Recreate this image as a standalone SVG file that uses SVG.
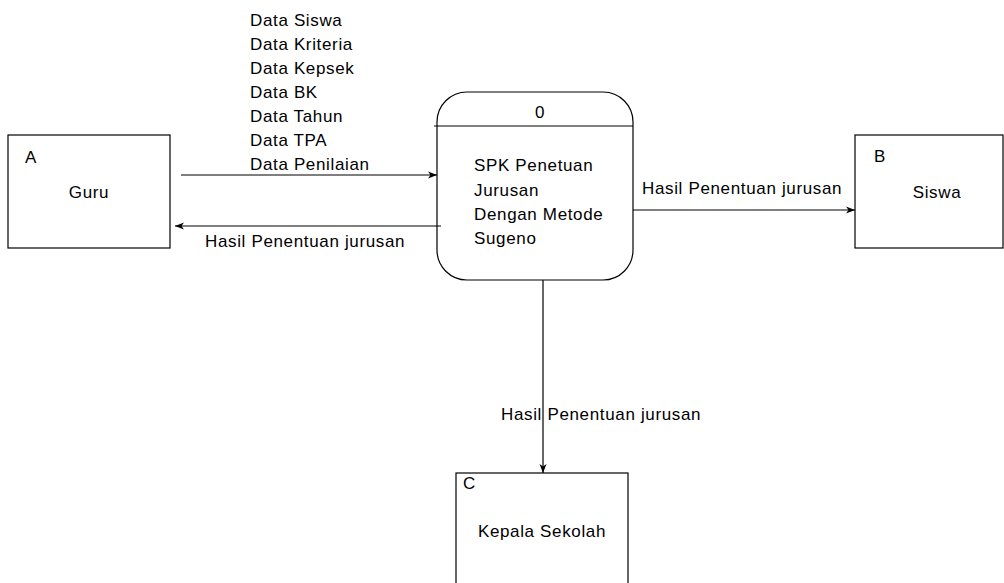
<svg xmlns="http://www.w3.org/2000/svg" width="1004" height="583" viewBox="0 0 1004 583">
<style>
text{font-family:"Liberation Sans",Arial,sans-serif;font-size:17px;letter-spacing:0.65px;fill:#000}
.box{fill:#fff;stroke:#000;stroke-width:1.2}
.ln{fill:none;stroke:#000;stroke-width:1.2}
.c{text-anchor:middle}
</style>
<defs>
<marker id="ah" markerWidth="10" markerHeight="8" refX="9" refY="4" orient="auto" markerUnits="userSpaceOnUse">
<path d="M0,0.5 L9,4 L0,7.5 L2.5,4 Z" fill="#000"/>
</marker>
</defs>
<rect width="1004" height="583" fill="#fff"/>
<g id="guru">
<rect class="box" x="8" y="135" width="162" height="113"/>
<text x="25" y="163">A</text>
<text class="c" x="89" y="198">Guru</text>
</g>
<g id="siswa">
<rect class="box" x="855" y="135" width="148" height="113"/>
<text x="874" y="162">B</text>
<text class="c" x="937" y="198">Siswa</text>
</g>
<g id="kepsek">
<rect class="box" x="456" y="473" width="172" height="120"/>
<text x="463" y="489">C</text>
<text class="c" x="542" y="537">Kepala Sekolah</text>
</g>
<g id="proses">
<rect class="box" x="437" y="92" width="196" height="188" rx="30" ry="30"/>
<line class="ln" x1="434" y1="126" x2="633" y2="126"/>
<text class="c" x="540" y="118">0</text>
<text x="474" y="171">SPK Penetuan</text>
<text x="474" y="196">Jurusan</text>
<text x="474" y="220">Dengan Metode</text>
<text x="474" y="244">Sugeno</text>
</g>
<g id="connectors">
<line class="ln" x1="181" y1="175" x2="437" y2="175" marker-end="url(#ah)"/>
<line class="ln" x1="441" y1="226" x2="175" y2="226" marker-end="url(#ah)"/>
<line class="ln" x1="633" y1="210" x2="855" y2="210" marker-end="url(#ah)"/>
<line class="ln" x1="543" y1="280" x2="543" y2="473" marker-end="url(#ah)"/>
<text x="250" y="26">Data Siswa</text>
<text x="250" y="50">Data Kriteria</text>
<text x="250" y="74">Data Kepsek</text>
<text x="250" y="98">Data BK</text>
<text x="250" y="122">Data Tahun</text>
<text x="250" y="146">Data TPA</text>
<text x="250" y="170">Data Penilaian</text>
<text x="205" y="247">Hasil Penentuan jurusan</text>
<text x="642" y="194">Hasil Penentuan jurusan</text>
<text x="501" y="420">Hasil Penentuan jurusan</text>
</g>
</svg>
